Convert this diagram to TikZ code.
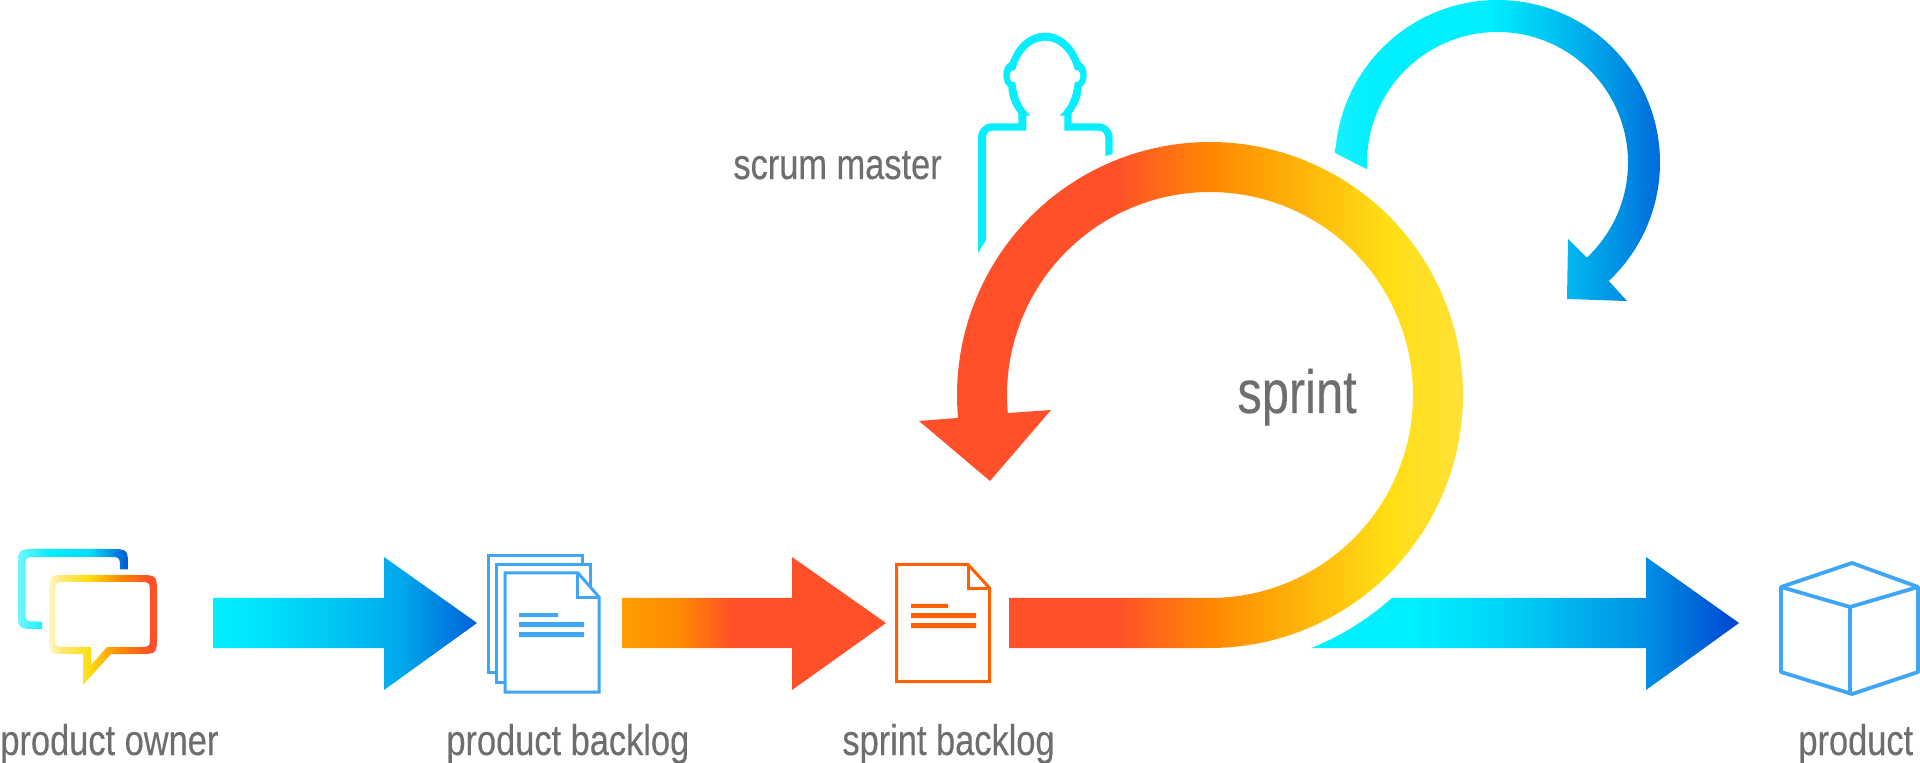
\documentclass[tikz,border=0pt]{standalone}
\usepackage{fontspec}
\setmainfont[FakeStretch=0.8,FakeBold=0.25]{Liberation Sans}
\definecolor{cRed}{HTML}{FF5029}
\definecolor{cOrange}{HTML}{FF8A00}
\definecolor{cAmber}{HTML}{FF9F00}
\definecolor{cYellow}{HTML}{FFDE14}
\definecolor{cPale}{HTML}{FFE138}
\definecolor{cCyan}{HTML}{00F0FF}
\definecolor{cTextGrey}{HTML}{6E6E6E}
\definecolor{cDocBlue}{HTML}{3FA5F5}
\definecolor{cDocOrange}{HTML}{FF6000}
\definecolor{cPerson}{HTML}{08EEFF}
\pgfdeclarehorizontalshading{bigarcS}{100bp}{color(0bp)=(cRed);color(43.86bp)=(cRed);color(52.63bp)=(cOrange);color(67.72bp)=(cYellow);color(74.39bp)=(cPale);color(100bp)=(cPale)}
\pgfdeclarehorizontalshading{arrowTwoS}{100bp}{color(0bp)=(cAmber);color(25bp)=(cAmber);color(36bp)=(cOrange);color(45.83bp)=(cRed);color(100bp)=(cRed)}
\definecolor{bA}{HTML}{00E8FF}\definecolor{bB}{HTML}{00C8F5}\definecolor{bC}{HTML}{00A8EC}\definecolor{bD}{HTML}{0060D8}
\pgfdeclarehorizontalshading{arrowOneS}{100bp}{color(0bp)=(cCyan);color(25bp)=(cCyan);color(31.06bp)=(bA);color(47.16bp)=(bB);color(60.4bp)=(bC);color(75bp)=(bD);color(100bp)=(bD)}
\definecolor{tA}{HTML}{00D5F8}\definecolor{tB}{HTML}{008FE4}\definecolor{tC}{HTML}{0044D0}
\pgfdeclarehorizontalshading{arrowThreeS}{100bp}{color(0bp)=(cCyan);color(36.48bp)=(cCyan);color(47bp)=(tA);color(64.1bp)=(tB);color(75bp)=(tC);color(100bp)=(tC)}
\definecolor{lA}{HTML}{18F0FF}\definecolor{lB}{HTML}{00EEFF}\definecolor{lC}{HTML}{00B8F0}\definecolor{lD}{HTML}{0090E4}\definecolor{lE}{HTML}{006ADC}
\pgfdeclarehorizontalshading{loopS}{100bp}{color(0bp)=(lA);color(25bp)=(lA);color(30.52bp)=(cCyan);color(48.93bp)=(lB);color(60.74bp)=(lC);color(68.86bp)=(lD);color(75bp)=(lE);color(100bp)=(lE)}
\definecolor{mA}{HTML}{70F6FF}\definecolor{mB}{HTML}{00EEFF}\definecolor{mC}{HTML}{00DCFF}\definecolor{mD}{HTML}{009CE8}\definecolor{mE}{HTML}{0058D0}
\pgfdeclarehorizontalshading{chatBackS}{100bp}{color(0bp)=(mA);color(25bp)=(mA);color(39.5bp)=(mB);color(57.7bp)=(mC);color(65.9bp)=(mD);color(75bp)=(mE);color(100bp)=(mE)}
\definecolor{nA}{HTML}{FFF6C8}\definecolor{nB}{HTML}{FFE870}
\pgfdeclarehorizontalshading{chatFrontS}{100bp}{color(0bp)=(nA);color(25bp)=(nA);color(31bp)=(nB);color(43.06bp)=(cYellow);color(57.87bp)=(cOrange);color(71.76bp)=(cRed);color(100bp)=(cRed)}
\newcommand{\gradfill}[4]{\begin{scope}\clip #4;\shade[shading=#1] (#2,0) rectangle (#3,763);\end{scope}}
\tikzset{
  lbl/.style={anchor=base west,inner sep=0pt,text=cTextGrey,font=\fontsize{21.5}{24}\selectfont},
  lblbig/.style={lbl,font=\fontsize{30.5}{34}\selectfont},
  bluedoc/.style={draw=cDocBlue,line width=1.5pt,miter limit=10},
  orangedoc/.style={draw=cDocOrange,line width=1.5pt,miter limit=10},
  cube/.style={draw=cDocBlue,line width=1.9pt,line join=round},
}
\begin{document}
\begin{tikzpicture}[x=0.5pt,y=-0.5pt]
\useasboundingbox (0,0) rectangle (1920,763);
% chat bubbles
\gradfill{chatBackS}{18}{128}{(42,629) -- (37,629) .. controls (18,629) .. (18,610) -- (18,568) .. controls (18,549) .. (37,549) -- (109,549) .. controls (128,549) .. (128,568) -- (128,569.5) -- (120,569.5) -- (120,569) .. controls (120,557) .. (108,557) -- (37.5,557) .. controls (25.5,557) .. (25.5,569) -- (25.5,609.5) .. controls (25.5,621.5) .. (37.5,621.5) -- (42,621.5) -- cycle}
\gradfill{chatFrontS}{49}{157}{(83,654) -- (68,654) .. controls (49,654) .. (49,635) -- (49,594) .. controls (49,575) .. (68,575) -- (138,575) .. controls (157,575) .. (157,594) -- (157,635) .. controls (157,654) .. (138,654) -- (111,654) -- (83,685) -- cycle (91,647) -- (91,665) -- (107,647) -- (138,647) .. controls (150,647) .. (150,635) -- (150,594) .. controls (150,582) .. (138,582) -- (67,582) .. controls (55,582) .. (55,594) -- (55,635) .. controls (55,647) .. (67,647) -- cycle}
% arrows
\gradfill{arrowOneS}{213}{477}{(213,598) -- (384,598) -- (384,557) -- (477,623) -- (384,690) -- (384,648) -- (213,648) -- cycle}
\gradfill{arrowTwoS}{622}{886}{(622,598) -- (792,598) -- (792,557) -- (886,623) -- (792,690) -- (792,648) -- (622,648) -- cycle}
\gradfill{arrowThreeS}{1311}{1739}{plot[domain=68.2:48.15,samples=40] ({1210+272.5*cos(\x)},{395+272.5*sin(\x)}) -- (1646,598) -- (1646,557) -- (1739,623) -- (1646,690) -- (1646,648) -- cycle}
% big sprint loop
\gradfill{bigarcS}{900}{1470}{(1009,648) -- (1210,648) -- plot[domain=90:-185.2,samples=300] ({1210+253*cos(\x)},{395+253*sin(\x)}) -- (919,421) -- (990,481) -- (1051,410) -- plot[domain=-185.1:90,samples=300] ({1210+203*cos(\x)},{395+203*sin(\x)}) -- (1009,598) -- cycle}
% daily loop
\gradfill{loopS}{1334}{1660}{plot[domain=-176.7:46.8,samples=200] ({1497.5+162.5*cos(\x)},{162.5+162.5*sin(\x)}) -- (1627,301) -- (1567,299) -- (1568,239) -- plot[domain=46.8:-183,samples=200] ({1497.5+130.5*cos(\x)},{162.5+130.5*sin(\x)}) -- cycle}
% scrum master figure
\begin{scope}[shift={(500pt,-10pt)},x=0.166667pt,y=-0.166667pt]
\fill[cPerson] (-66,699) -- (-66,352) .. controls (-66,328) and (-47,310) .. (-24,310) -- (55,310) -- (55,280) .. controls (35,255) and (25,225) .. (25,200) .. controls (5,190) and (5,140) .. (25,130) -- (30,125) .. controls (50,70) and (90,38) .. (135,38) .. controls (180,38) and (220,70) .. (240,125) -- (245,130) .. controls (265,140) and (265,190) .. (245,200) .. controls (245,225) and (235,255) .. (215,280) -- (215,310) -- (295,310) .. controls (320,310) and (338,330) .. (338,355) -- (338,402) -- (316,408) -- (316,355) .. controls (316,342) and (308,332) .. (295,332) -- (193,332) -- (193,287) -- (178,287) .. controls (205,265) and (220,230) .. (224,187) -- (235,185) .. controls (243,180) and (243,155) .. (235,152) -- (224,149) .. controls (210,95) and (175,62) .. (135,62) .. controls (95,62) and (60,95) .. (46,149) -- (35,152) .. controls (27,155) and (27,180) .. (35,185) -- (46,187) .. controls (50,230) and (65,265) .. (92,287) -- (79,287) -- (79,332) -- (-24,332) .. controls (-36,332) and (-42,342) .. (-42,355) -- (-42,660) -- cycle;
\end{scope}
% product backlog documents
\draw[bluedoc] (495,672.5) -- (488.5,672.5) -- (488.5,555.5) -- (582,555.5) -- (582,564);
\draw[bluedoc] (504,682) -- (496.5,682) -- (496.5,565) -- (590.5,565) -- (590.5,587);
\draw[bluedoc] (505,692) -- (505,573) -- (578,573) -- (599,597) -- (599,692) -- cycle;
\draw[bluedoc] (577,573) -- (577,598) -- (599,598);
\fill[cDocBlue] (519,613) rectangle (558,617) (519,622) rectangle (584,627) (519,632) rectangle (584,637);
% sprint backlog document
\draw[orangedoc] (896.5,681.5) -- (896.5,564.5) -- (968,564.5) -- (989.5,588) -- (989.5,681.5) -- cycle;
\draw[orangedoc] (968,565) -- (968,589) -- (989,589);
\fill[cDocOrange] (911,604) rectangle (948,608) (911,613) rectangle (976,618) (911,623) rectangle (976,628);
% product cube
\draw[cube] (1781,587) -- (1852,563) -- (1918,587) -- (1918,672) -- (1852,694) -- (1781,672) -- cycle;
\draw[cube] (1781,587) -- (1850,607) -- (1918,587);
\draw[cube] (1850,607) -- (1850,694);
% labels
\node[lbl] (lblOwner) at (0,755) {product owner};
\node[lbl] (lblBacklog) at (446,755) {product backlog};
\node[lbl] (lblSprintBacklog) at (842,755) {sprint backlog};
\node[lbl] (lblProduct) at (1798,755) {product};
\node[lbl] (lblMaster) at (733,179) {scrum master};
\node[lblbig] (lblSprint) at (1237,413) {sprint};
\end{tikzpicture}
\end{document}
